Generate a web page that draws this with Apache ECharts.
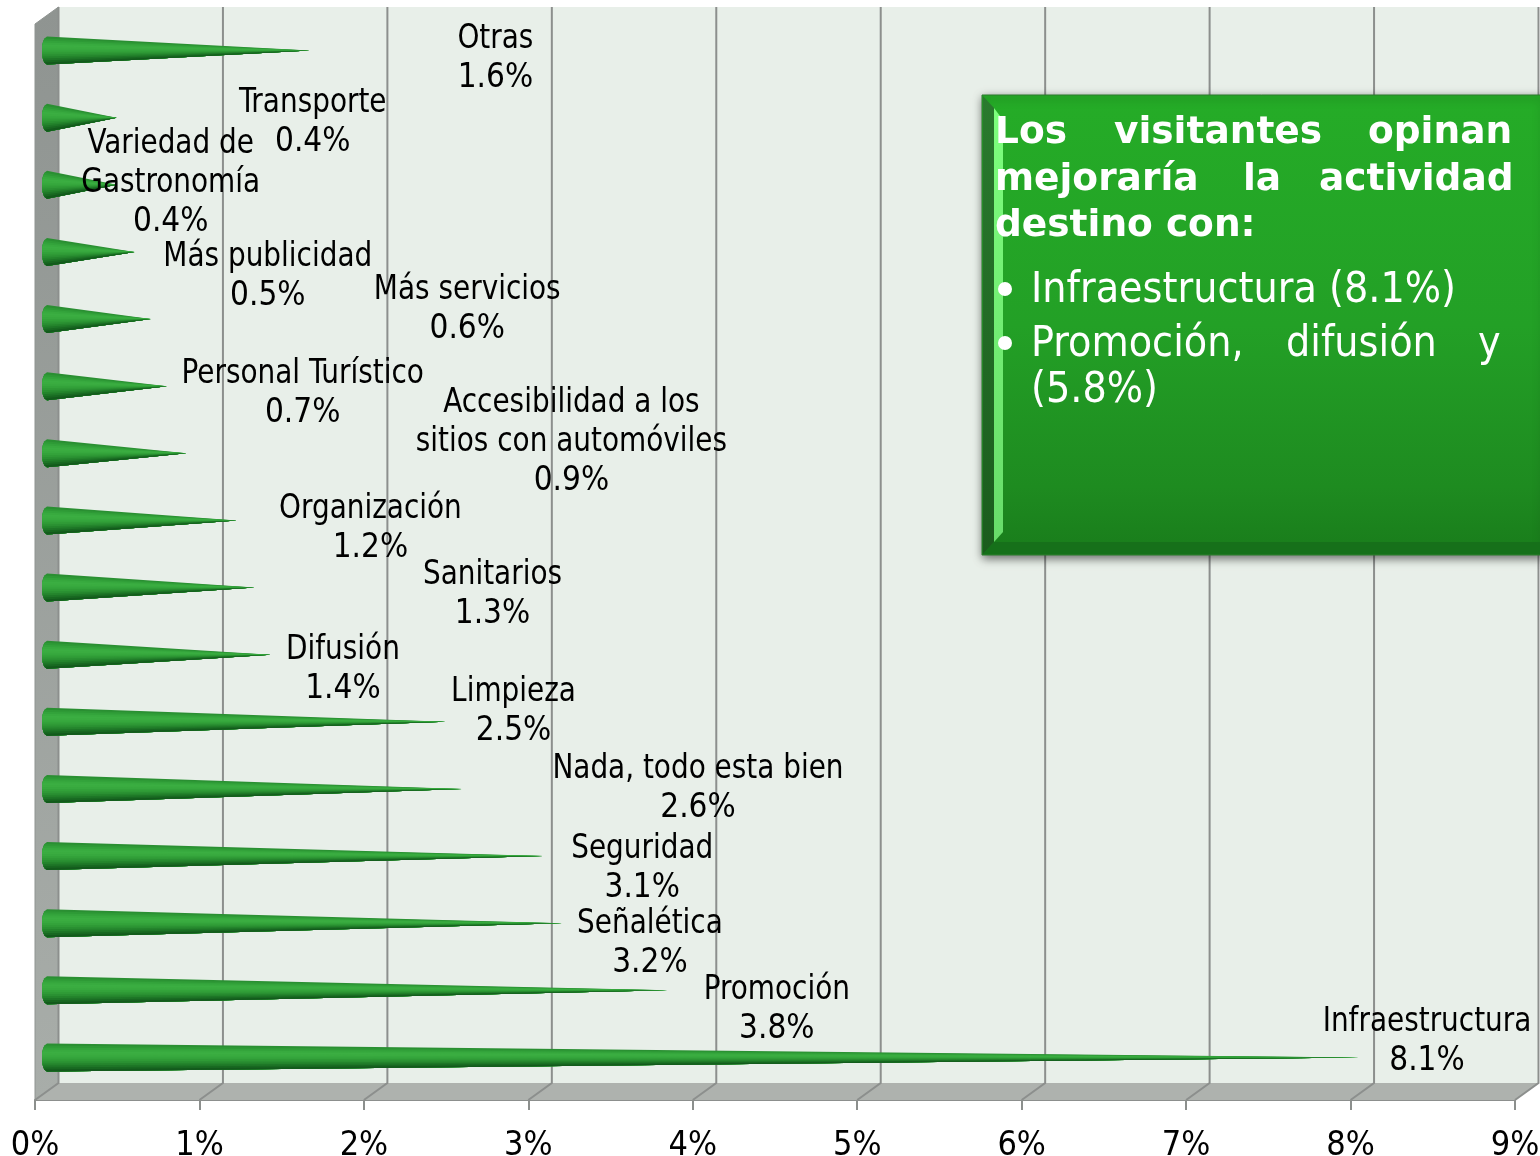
<!DOCTYPE html>
<html>
<head>
<meta charset="utf-8">
<title>Mejoras al destino</title>
<style>
  html, body { margin: 0; padding: 0; background: #fff; }
  #chart { width: 1540px; height: 1156px; }
</style>
<script src="https://cdn.jsdelivr.net/npm/echarts@6/dist/echarts.min.js"></script>
</head>
<body>
<div id="chart"></div>
<script>
const categories = [
  'Otras', 'Transporte', 'Variedad de\nGastronomía', 'Más publicidad', 'Más servicios',
  'Personal Turístico', 'Accesibilidad a los\nsitios con automóviles', 'Organización',
  'Sanitarios', 'Difusión', 'Limpieza', 'Nada, todo esta bien', 'Seguridad',
  'Señalética', 'Promoción', 'Infraestructura'
];
// percent, labels in the picture show one decimal
const values = [1.62, 0.43, 0.43, 0.54, 0.64, 0.74, 0.86, 1.17, 1.28, 1.38, 2.46, 2.56, 3.06, 3.18, 3.83, 8.1];
const xTicks = [0, 1, 2, 3, 4, 5, 6, 7, 8, 9];

// label centre relative to the value position on the axis, hand placed like the original
const labelOffsets = [
  [194, 8], [207, 5], [65, -1], [144, 25], [327, -9], [146, 8], [395, -11], [143, 8],
  [247, 7], [81, 15], [74, -10], [242, 0], [104, 13], [92, 21], [112, 20], [60, -16]
];

const FONT = '"DejaVu Sans Condensed", "DejaVu Sans", sans-serif';
const LABEL_SIZE = 33;
const NAME_SQUEEZE = 0.94;
const LINE_H = 39;

// fake 3d box
const DEPTH_X = 23.5;
const FRONT_DY = 9;
const BACK_DY = -8;
const TOP_FRONT_DY = 7;
const TOP_BACK_DY = -10;
const GRID_COLOR = '#8c8f8d';

// cone
const BASE_DX = 12;
const CONE_R = 14;
const CONE_RX = 5;
const CONE_STRETCH = 0.985;
const coneShades = [
  '#2a8f32', '#2e9a36', '#33a33b', '#38aa3f', '#3bae42', '#3aac40', '#37a83e',
  '#33a23a', '#2f9a36', '#2a9032', '#24842c', '#1e7627', '#186821', '#135a1c'
];

function renderWalls(params, api) {
  const cs = params.coordSys;
  const left = cs.x;
  const right = cs.x + cs.width;
  const bottom = cs.y + cs.height;
  const children = [
    { // back wall
      type: 'polygon',
      shape: { points: [[left + DEPTH_X, cs.y + TOP_BACK_DY], [right + DEPTH_X, cs.y + TOP_BACK_DY], [right + DEPTH_X, bottom + BACK_DY], [left + DEPTH_X, bottom + BACK_DY]] },
      style: { fill: '#e8efe9' }
    },
    { // left wall
      type: 'polygon',
      shape: { points: [[left, cs.y + TOP_FRONT_DY], [left + DEPTH_X, cs.y + TOP_BACK_DY], [left + DEPTH_X, bottom + BACK_DY], [left, bottom + FRONT_DY]] },
      style: {
        fill: new echarts.graphic.LinearGradient(0, 0, 0, 1, [
          { offset: 0, color: '#8f9491' }, { offset: 1, color: '#a8ada9' }
        ]),
        stroke: '#8f9491', lineWidth: 1
      }
    },
    { // floor
      type: 'polygon',
      shape: { points: [[left, bottom + FRONT_DY], [left + DEPTH_X, bottom + BACK_DY], [right + DEPTH_X, bottom + BACK_DY], [right, bottom + FRONT_DY]] },
      style: { fill: '#aeb2ae' }
    }
  ];
  xTicks.forEach(function (t) {
    const x = api.coord([t, 0])[0];
    children.push({
      type: 'polyline',
      shape: { points: [[x, bottom + FRONT_DY], [x + DEPTH_X, bottom + BACK_DY], [x + DEPTH_X, cs.y + TOP_BACK_DY]] },
      style: { fill: null, stroke: GRID_COLOR, lineWidth: 2 }
    });
  });
  return { type: 'group', children: children };
}

function renderCone(params, api) {
  const value = api.value(0);
  const zero = api.coord([0, api.value(1)]);
  const end = api.coord([value, api.value(1)]);
  const cx = zero[0] + BASE_DX;
  const cy = zero[1];
  const tip = [cx + (end[0] - zero[0]) * CONE_STRETCH, cy];
  const n = coneShades.length;
  const children = [];
  // overpaint from top to bottom so the strips leave no seams
  for (let i = 0; i < n; i++) {
    const pts = [];
    for (let j = i; j <= n; j++) {
      const t = -1 + 2 * j / n;
      pts.push([cx - CONE_RX * Math.sqrt(1 - t * t), cy + CONE_R * t]);
    }
    pts.push(tip);
    children.push({ type: 'polygon', shape: { points: pts }, style: { fill: coneShades[i] } });
  }
  return { type: 'group', children: children };
}

function renderLabel(params, api) {
  const i = params.dataIndex;
  const p = api.coord([api.value(0), api.value(1)]);
  const x = p[0] + labelOffsets[i][0];
  const cy = p[1] + labelOffsets[i][1];
  const nameLines = categories[i].split('\n');
  const top = cy - nameLines.length * LINE_H / 2;
  const children = nameLines.map(function (line, k) {
    return {
      type: 'text',
      x: x,
      y: top + k * LINE_H,
      scaleX: NAME_SQUEEZE,
      style: {
        x: 0, y: 0, text: line, align: 'center', verticalAlign: 'middle',
        font: LABEL_SIZE + 'px ' + FONT, fill: '#000'
      }
    };
  });
  children.push({
    type: 'text',
    style: {
      x: x, y: top + nameLines.length * LINE_H, text: values[i].toFixed(1) + '%',
      align: 'center', verticalAlign: 'middle',
      font: LABEL_SIZE + 'px ' + FONT, fill: '#000'
    }
  });
  return { type: 'group', children: children };
}

// green note box on the right
const boxTitleWords = [
  ['Los', 995, 133], ['visitantes', 1114, 133], ['opinan', 1368, 133],
  ['mejoraría', 995, 180], ['la', 1243, 180], ['actividad', 1319, 180],
  ['destino con:', 995, 226]
];
const boxItemWords = [
  ['Infraestructura (8.1%)', 1031, 291], ['Promoción,', 1031, 345],
  ['difusión', 1286, 345], ['y', 1478, 345], ['(5.8%)', 1031, 391]
];
const boxBullets = [[1005, 289], [1005, 343]];

function boxGraphics() {
  const out = [
    {
      type: 'rect', z: 20,
      shape: { x: 982, y: 95, width: 560, height: 460 },
      style: {
        fill: new echarts.graphic.LinearGradient(0, 0, 0, 1, [
          { offset: 0, color: '#25ac27' }, { offset: 0.5, color: '#23a026' },
          { offset: 0.85, color: '#1e8b20' }, { offset: 1, color: '#197c1b' }
        ]),
        stroke: '#2c7a2e', lineWidth: 1,
        shadowBlur: 9, shadowOffsetX: 1, shadowOffsetY: 3, shadowColor: 'rgba(0,0,0,0.55)'
      }
    },
    { // bevel, left outer
      type: 'polygon', z: 21,
      shape: { points: [[983, 96], [994, 108], [994, 542], [983, 554]] },
      style: {
        fill: new echarts.graphic.LinearGradient(0, 0, 0, 1, [
          { offset: 0, color: '#2a7a2e' }, { offset: 1, color: '#1b5c1d' }
        ])
      }
    },
    { // bevel, bottom
      type: 'polygon', z: 21,
      shape: { points: [[983, 554], [994, 542], [1540, 542], [1540, 554]] },
      style: { fill: '#16701a' }
    },
    { // bevel, light stripe
      type: 'polygon', z: 21,
      shape: { points: [[994, 108], [1003, 120], [1003, 532], [994, 542]] },
      style: {
        fill: new echarts.graphic.LinearGradient(0, 0, 0, 1, [
          { offset: 0, color: '#7dff7d' }, { offset: 1, color: '#68dc6a' }
        ])
      }
    }
  ];
  boxTitleWords.forEach(function (w) {
    out.push({
      type: 'text', z: 22,
      style: { x: w[1], y: w[2], text: w[0], verticalAlign: 'middle', font: 'bold 37.5px "DejaVu Sans", sans-serif', fill: '#fff' }
    });
  });
  boxItemWords.forEach(function (w) {
    out.push({
      type: 'text', z: 22,
      style: { x: w[1], y: w[2], text: w[0], verticalAlign: 'middle', font: '42.5px ' + FONT, fill: '#fff' }
    });
  });
  boxBullets.forEach(function (b) {
    out.push({
      type: 'circle', z: 22,
      shape: { cx: b[0], cy: b[1], r: 7 },
      style: { fill: '#fff' }
    });
  });
  return out;
}

const chart = echarts.init(document.getElementById('chart'));
const rows = values.map(function (v, i) { return [v, i]; });

chart.setOption({
  animation: false,
  backgroundColor: '#fff',
  grid: { left: 35, right: 25, top: 17, height: 1074, outerBoundsMode: 'none' },
  xAxis: {
    type: 'value',
    min: 0,
    max: 9,
    interval: 1,
    offset: 9,
    axisLine: { show: true, lineStyle: { color: GRID_COLOR, width: 2 } },
    axisTick: { show: true, length: 10, lineStyle: { color: GRID_COLOR, width: 2 } },
    axisLabel: {
      margin: 29, color: '#000', fontSize: 34, fontFamily: FONT,
      hideOverlap: false, showMinLabel: true, showMaxLabel: true,
      formatter: '{value}%'
    },
    splitLine: { show: false }
  },
  yAxis: { type: 'category', data: categories, inverse: true, show: false },
  graphic: boxGraphics(),
  series: [
    { type: 'custom', name: 'walls', z: 1, silent: true, data: [[0, 0]], renderItem: renderWalls, encode: { x: 0, y: 1 } },
    { type: 'custom', name: 'cones', z: 2, silent: true, data: rows, renderItem: renderCone, encode: { x: 0, y: 1 } },
    { type: 'custom', name: 'labels', z: 3, silent: true, data: rows, renderItem: renderLabel, encode: { x: 0, y: 1 } }
  ]
});
</script>
</body>
</html>
